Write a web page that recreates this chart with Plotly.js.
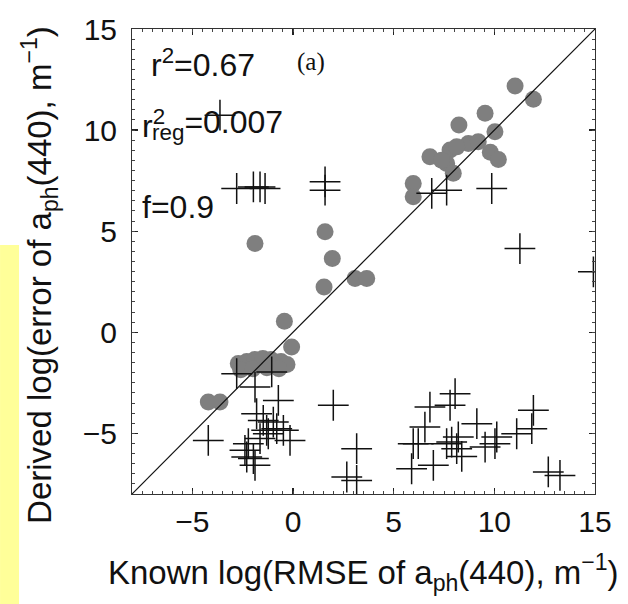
<!DOCTYPE html>
<html><head><meta charset="utf-8">
<script src="https://cdn.plot.ly/plotly-3.0.1.min.js"></script>
<style>html,body{margin:0;padding:0;background:#fff;}#chart{width:628px;height:604px;}</style>
</head><body><div id="chart"></div>
<script>
// Grey filled circles
const circleX = [11.03, 11.94, 9.54, 8.24, 10.03, 6.80, 7.80, 8.71, 9.20, 9.80, 10.20, 7.63, 7.96, 7.38, 8.13, 5.97, 5.97,
  -1.89, 1.59, 1.95, 1.54, 3.08, 3.66, -0.43, -0.07,
  -2.72, -2.30, -1.90, -1.50, -1.10, -0.60, -0.30, -2.60, -2.00, -1.30, -0.70,
  -4.21, -3.63];
const circleY = [12.18, 11.53, 10.83, 10.25, 9.92, 8.68, 9.01, 9.34, 9.42, 8.90, 8.55, 8.35, 7.86, 8.51, 9.17, 7.36, 6.70,
  4.39, 4.97, 3.65, 2.24, 2.66, 2.66, 0.54, -0.73,
  -1.55, -1.45, -1.35, -1.30, -1.35, -1.45, -1.60, -1.85, -1.80, -1.75, -1.80,
  -3.45, -3.45];
// Black crosses
const crossX = [-3.63, -2.80, -1.97, -1.64, -1.39, 1.59, 1.59, 6.89, 7.63, 9.87, 11.27, 14.92,
  8.05, 7.80, 6.80, 6.55, 5.97, 6.22, 5.89, 6.97, 7.63, 7.88, 8.21, 8.13, 8.38, 9.13, 9.54, 10.03, 10.12, 11.11, 11.94, 11.86, 12.68, 13.26,
  -2.80, -1.06, -1.89, -0.73, 2.00, -4.21, -1.81, -1.48, -0.98, -1.31, -0.81, -0.48, -0.15, -2.22, -1.64, -2.30, -1.97, -2.39, -1.89, -1.23,
  3.16, 2.67, 3.16];
const crossY = [10.74, 7.11, 7.19, 7.19, 7.11, 7.44, 7.03, 6.87, 7.03, 7.11, 4.14, 2.99,
  -3.04, -3.61, -3.70, -4.69, -5.51, -5.51, -6.75, -6.58, -5.51, -5.43, -5.18, -5.76, -6.14, -4.52, -5.68, -5.51, -5.18, -5.02, -3.86, -4.77, -6.91, -7.08,
  -2.05, -1.96, -2.71, -3.37, -3.61, -5.35, -4.03, -4.36, -4.44, -4.85, -4.77, -4.85, -5.35, -5.51, -5.26, -6.17, -6.25, -5.84, -6.58, -5.02,
  -5.76, -7.16, -7.33];
const oneToOne = [-8, 15];
const axisRange = [-8, 15];
const majorStep = 5;
const minorStep = 0.5;
const xTitle = 'Known log(RMSE of a<sub>ph</sub>(440), m<sup>\u22121</sup>)';
const yTitle = 'Derived log(error of a<sub>ph</sub>(440), m<sup>\u22121</sup>)';

const FONT = 'Liberation Sans, Arial, Helvetica, sans-serif';
const INK = '#111';
const traces = [
  {x: circleX, y: circleY, mode: 'markers', type: 'scatter',
   marker: {symbol: 'circle', size: 17, color: '#7f7f7f', line: {width: 0}}},
  {x: crossX, y: crossY, mode: 'markers', type: 'scatter',
   marker: {symbol: 'cross-thin', size: 22, color: INK, line: {width: 1.5, color: INK}}},
  {x: oneToOne, y: oneToOne, mode: 'lines', type: 'scatter', line: {color: INK, width: 1.2}},
  // invisible trace anchoring the overlay axes that carry the minor tick marks
  {x: oneToOne, y: oneToOne, xaxis: 'x2', yaxis: 'y2', mode: 'lines', type: 'scatter',
   line: {width: 0, color: 'rgba(0,0,0,0)'}, hoverinfo: 'skip'}
];
const baseAxis = {
  range: axisRange, tickmode: 'linear', tick0: 0,
  ticks: 'inside', mirror: 'ticks',
  showline: true, linecolor: '#333', linewidth: 1,
  showgrid: false, zeroline: false
};
const majorAxis = Object.assign({}, baseAxis, {
  dtick: majorStep, ticklen: 6, tickwidth: 1.2, tickcolor: '#222',
  tickfont: {family: FONT, size: 30, color: INK}
});
const minorAxis = Object.assign({}, baseAxis, {
  dtick: minorStep, ticklen: 3, tickwidth: 1, tickcolor: '#444', showticklabels: false
});
const layout = {
  width: 628, height: 604, showlegend: false,
  paper_bgcolor: '#fff', plot_bgcolor: '#fff',
  margin: {l: 132, r: 33, t: 29, b: 110},
  xaxis: Object.assign({}, majorAxis, {ticklabelstandoff: 1}),
  yaxis: Object.assign({}, majorAxis, {ticklabelstandoff: 8}),
  xaxis2: Object.assign({}, minorAxis, {overlaying: 'x', side: 'bottom', anchor: 'y2', matches: 'x'}),
  yaxis2: Object.assign({}, minorAxis, {overlaying: 'y', side: 'left', anchor: 'x2', matches: 'y'}),
  shapes: [
    {type: 'rect', xref: 'paper', yref: 'paper', x0: -0.285, x1: -0.244, y0: 0.5355, y1: -0.2366,
     fillcolor: '#ffff99', line: {width: 0}, layer: 'below'}
  ],
  annotations: [
    {xref: 'paper', yref: 'paper', x: 0.501, y: -0.168, xanchor: 'center', yanchor: 'middle', showarrow: false,
     text: xTitle, font: {family: FONT, size: 33, color: INK}},
    {xref: 'paper', yref: 'paper', x: -0.2, y: 0.472, xanchor: 'center', yanchor: 'middle', showarrow: false,
     textangle: -90, text: yTitle, font: {family: FONT, size: 33, color: INK}},
    {xref: 'x', yref: 'y', x: -7.15, y: 13.3, xanchor: 'left', yanchor: 'middle', showarrow: false,
     text: 'r<sup>2</sup>=0.67', font: {family: FONT, size: 32, color: INK}},
    {xref: 'x', yref: 'y', x: 0.1, y: 13.35, xanchor: 'left', yanchor: 'middle', showarrow: false,
     text: '(a)', font: {family: 'Liberation Serif, Times New Roman, serif', size: 25, color: INK}},
    {xref: 'x', yref: 'y', x: -7.6, y: 10.3, xanchor: 'left', yanchor: 'middle', showarrow: false,
     text: 'r<sup>2</sup>', font: {family: FONT, size: 32, color: INK}},
    {xref: 'x', yref: 'y', x: -7.1, y: 10.3, xanchor: 'left', yanchor: 'middle', showarrow: false,
     text: '<sub>reg</sub>=0.007', font: {family: FONT, size: 32, color: INK}},
    {xref: 'x', yref: 'y', x: -7.6, y: 6.2, xanchor: 'left', yanchor: 'middle', showarrow: false,
     text: 'f=0.9', font: {family: FONT, size: 32, color: INK}}
  ]
};
Plotly.newPlot('chart', traces, layout, {displayModeBar: false, staticPlot: true});
</script></body></html>
